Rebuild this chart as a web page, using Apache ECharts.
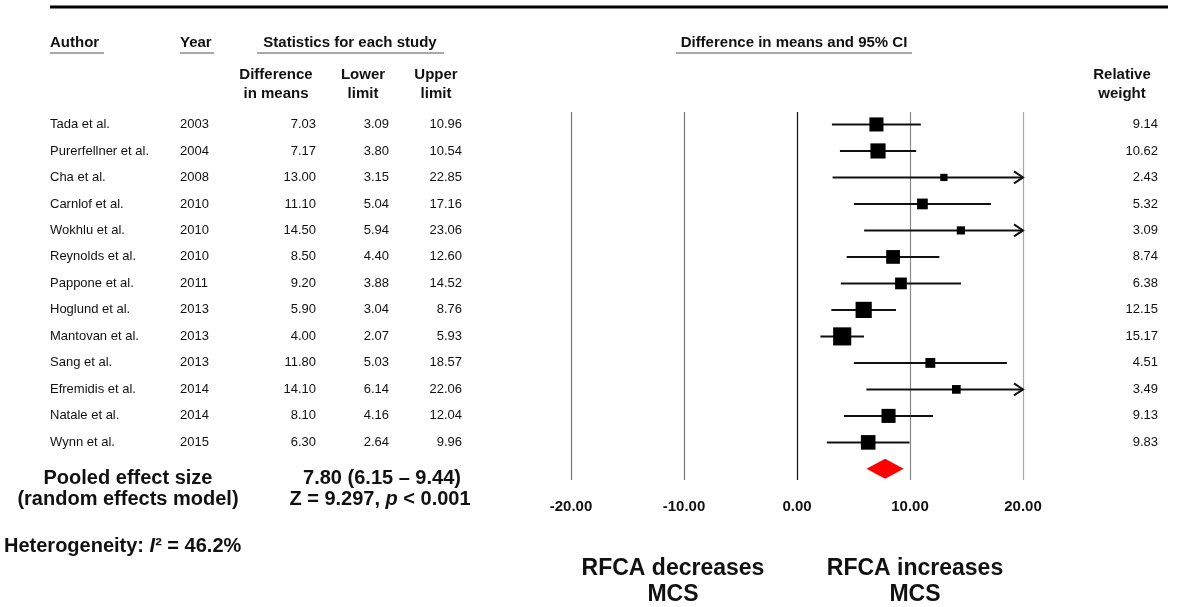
<!DOCTYPE html>
<html>
<head>
<meta charset="utf-8">
<script src="https://cdn.jsdelivr.net/npm/echarts@6/dist/echarts.min.js"></script>
<style>
  html, body { margin: 0; padding: 0; background: #fff; }
  #forest { width: 1179px; height: 607px; }
</style>
</head>
<body>
<div id="forest"></div>
<script>
// study rows
const authors = ["Tada et al.", "Purerfellner et al.", "Cha et al.", "Carnlof et al.", "Wokhlu et al.",
  "Reynolds et al.", "Pappone et al.", "Hoglund et al.", "Mantovan et al.", "Sang et al.",
  "Efremidis et al.", "Natale et al.", "Wynn et al."];
const years = [2003, 2004, 2008, 2010, 2010, 2010, 2011, 2013, 2013, 2013, 2014, 2014, 2015];
const diffs = [7.03, 7.17, 13.00, 11.10, 14.50, 8.50, 9.20, 5.90, 4.00, 11.80, 14.10, 8.10, 6.30];
const lowers = [3.09, 3.80, 3.15, 5.04, 5.94, 4.40, 3.88, 3.04, 2.07, 5.03, 6.14, 4.16, 2.64];
const uppers = [10.96, 10.54, 22.85, 17.16, 23.06, 12.60, 14.52, 8.76, 5.93, 18.57, 22.06, 12.04, 9.96];
const weights = [9.14, 10.62, 2.43, 5.32, 3.09, 8.74, 6.38, 12.15, 15.17, 4.51, 3.49, 9.13, 9.83];
// pooled estimate [est, lower, upper]
const pooled = [7.80, 6.15, 9.44];
const xTicks = [-20, -10, 0, 10, 20];

const narrow = "'Liberation Sans Narrow', 'Arial Narrow', 'Liberation Sans', Arial, sans-serif";
const sans = "'Liberation Sans', Arial, sans-serif";
const pooledRow = authors.length;
const xMax = xTicks[xTicks.length - 1];

let chart = echarts.init(document.getElementById("forest"));

function txt(x, y, text, opts) {
  return {
    type: "text", x: x, y: y, silent: true,
    style: Object.assign({
      text: text, fill: "#111", font: "bold 15px " + sans,
      textAlign: "left", textVerticalAlign: "middle"
    }, opts || {})
  };
}
function hline(x1, x2, y, w, c) {
  return { type: "line", silent: true, shape: { x1: x1, y1: y, x2: x2, y2: y },
    style: { stroke: c || "#555", lineWidth: w || 1 } };
}

const big = "bold 20px " + sans;
const foot = "bold 23px " + narrow;

let option = {
  animation: false,
  grid: { left: 571, right: 156, top: 112, bottom: 127 },
  xAxis: {
    type: "value", min: xTicks[0], max: xMax, interval: 10,
    axisLine: { show: false }, axisTick: { show: false },
    splitLine: { show: true, lineStyle: { color: ["#777", "#777", "#111", "#888", "#aaa"], width: 1.2 } },
    axisLabel: { margin: 19, color: "#111", fontWeight: "bold", fontSize: 15, fontFamily: sans,
      formatter: (v) => v.toFixed(2) }
  },
  yAxis: {
    type: "value", inverse: true, min: -0.47, max: 13.42, show: false,
    splitLine: { show: false }
  },
  series: [
    {
      // confidence intervals, arrow when beyond the axis
      type: "custom",
      data: lowers.map((l, i) => [l, uppers[i], i]),
      renderItem: function (params, api) {
        let lo = api.coord([api.value(0), api.value(2)]);
        let hiVal = api.value(1);
        let hi = api.coord([Math.min(hiVal, xMax), api.value(2)]);
        let children = [{
          type: "line", shape: { x1: lo[0], y1: lo[1], x2: hi[0], y2: hi[1] },
          style: { stroke: "#111", lineWidth: 2 }
        }];
        if (hiVal > xMax) {
          children.push({
            type: "polyline",
            shape: { points: [[hi[0] - 9, hi[1] - 6], [hi[0], hi[1]], [hi[0] - 9, hi[1] + 6]] },
            style: { stroke: "#111", lineWidth: 2, fill: null }
          });
        }
        return { type: "group", children: children };
      },
      z: 3
    },
    {
      type: "scatter",
      symbol: "rect",
      data: diffs.map((d, i) => [d, i, weights[i]]),
      symbolSize: (val) => Math.sqrt(val[2]) * 4.65,
      itemStyle: { color: "#000", opacity: 1 },
      z: 4
    },
    {
      // pooled diamond
      type: "custom",
      data: [[pooled[0], pooled[1], pooled[2], pooledRow]],
      renderItem: function (params, api) {
        let row = api.value(3);
        let c = api.coord([api.value(0), row]);
        let l = api.coord([api.value(1), row]);
        let r = api.coord([api.value(2), row]);
        return {
          type: "polygon",
          shape: { points: [[l[0], c[1]], [c[0], c[1] - 10], [r[0], c[1]], [c[0], c[1] + 10]] },
          style: { fill: "#ff0000" }
        };
      },
      z: 4
    },
    {
      // table columns
      type: "custom",
      clip: false,
      data: authors.map((a, i) => [0, i]),
      renderItem: function (params, api) {
        let i = params.dataIndex;
        let y = api.coord([0, api.value(1)])[1];
        let f = "13px " + narrow;
        let cell = (x, t, align) => ({
          type: "text", x: x, y: y,
          style: { text: t, font: f, fill: "#111", textAlign: align, textVerticalAlign: "middle" }
        });
        return {
          type: "group",
          children: [
            cell(50, authors[i], "left"),
            cell(180, String(years[i]), "left"),
            cell(316, diffs[i].toFixed(2), "right"),
            cell(389, lowers[i].toFixed(2), "right"),
            cell(462, uppers[i].toFixed(2), "right"),
            cell(1158, weights[i].toFixed(2), "right")
          ]
        };
      }
    }
  ],
  graphic: [
    hline(50, 1168, 7, 3, "#000"),
    txt(50, 43, "Author"),
    hline(50, 104, 53),
    txt(180, 43, "Year"),
    hline(180, 214, 53),
    txt(350, 43, "Statistics for each study", { textAlign: "center" }),
    hline(257, 444, 53),
    txt(794, 43, "Difference in means and 95% CI", { textAlign: "center" }),
    hline(676, 912, 53),
    txt(276, 75, "Difference", { textAlign: "center" }),
    txt(276, 94, "in means", { textAlign: "center" }),
    txt(363, 75, "Lower", { textAlign: "center" }),
    txt(363, 94, "limit", { textAlign: "center" }),
    txt(436, 75, "Upper", { textAlign: "center" }),
    txt(436, 94, "limit", { textAlign: "center" }),
    txt(1122, 75, "Relative", { textAlign: "center" }),
    txt(1122, 94, "weight", { textAlign: "center" }),
    txt(128, 478, "Pooled effect size", { textAlign: "center", font: big }),
    txt(128, 499, "(random effects model)", { textAlign: "center", font: big }),
    txt(382, 478, "7.80 (6.15 \u2013 9.44)", { textAlign: "center", font: big }),
    {
      type: "text", x: 380, y: 499, silent: true,
      style: {
        text: "{b|Z = 9.297, }{i|p}{b| < 0.001}", textAlign: "center", textVerticalAlign: "middle",
        rich: {
          b: { font: big, fill: "#111" },
          i: { font: "italic " + big, fill: "#111" }
        }
      }
    },
    {
      type: "text", x: 4, y: 546, silent: true,
      style: {
        text: "{b|Heterogeneity: }{i|I}{b|\u00b2 = 46.2%}", textAlign: "left", textVerticalAlign: "middle",
        rich: {
          b: { font: big, fill: "#111" },
          i: { font: "italic " + big, fill: "#111" }
        }
      }
    },
    txt(673, 569, "RFCA decreases", { textAlign: "center", font: foot }),
    txt(673, 595, "MCS", { textAlign: "center", font: foot }),
    txt(915, 569, "RFCA increases", { textAlign: "center", font: foot }),
    txt(915, 595, "MCS", { textAlign: "center", font: foot })
  ]
};
chart.setOption(option);
</script>
</body>
</html>
